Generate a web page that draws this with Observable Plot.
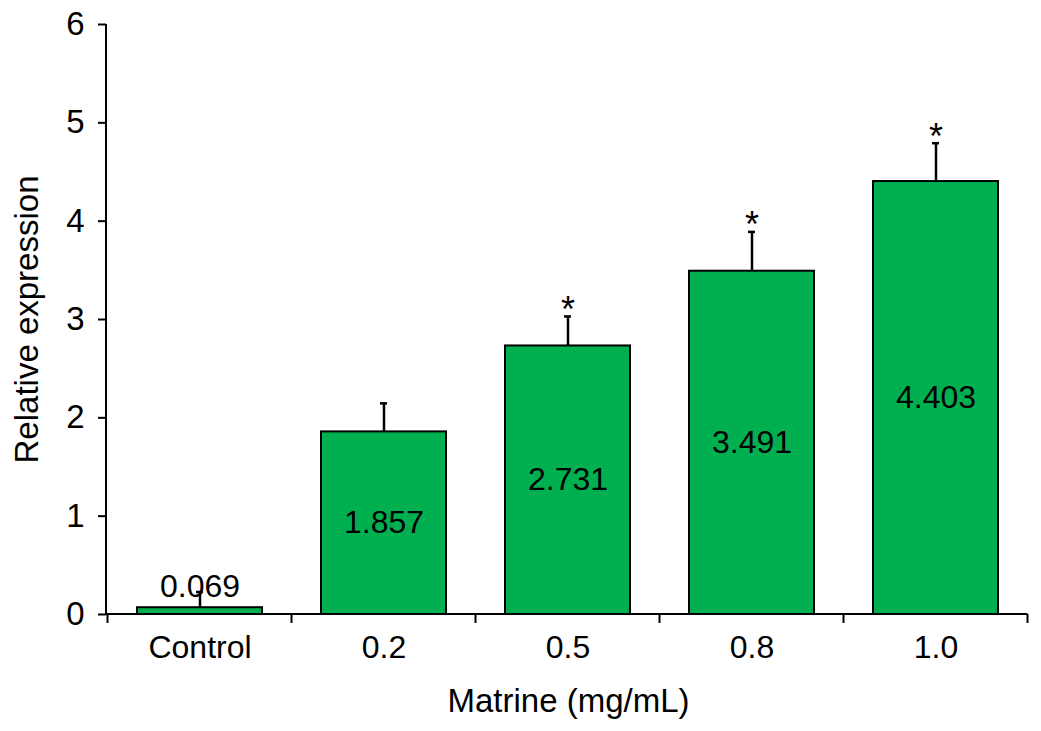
<!DOCTYPE html>
<html>
<head>
<meta charset="utf-8">
<script src="https://cdn.jsdelivr.net/npm/d3@7"></script>
<script src="https://cdn.jsdelivr.net/npm/@observablehq/plot@0.6"></script>
<style>
  html, body { margin: 0; padding: 0; background: #fff; }
</style>
</head>
<body>
<div id="chart"></div>
<script>
const categories = ["Control", "0.2", "0.5", "0.8", "1.0"];
const values = [0.069, 1.857, 2.731, 3.491, 4.403];
const errors = [0.16, 0.29, 0.30, 0.40, 0.39];
const significant = [false, false, true, true, true];
const yTicks = [0, 1, 2, 3, 4, 5, 6];
const valueLabels = ["0.069", "1.857", "2.731", "3.491", "4.403"];
const xTitle = "Matrine (mg/mL)";
const yTitle = "Relative expression";

const data = categories.map((c, i) => ({
  cat: c, value: values[i], err: errors[i], top: values[i] + errors[i],
  sig: significant[i], label: valueLabels[i]
}));

const FONT = "'Liberation Sans', Arial, Helvetica, sans-serif";
const GREEN = "#00B050";

function axesFrame(index, scales, values, dimensions) {
  const {width, height, marginLeft, marginRight, marginTop, marginBottom} = dimensions;
  const x = scales.x;
  const n = categories.length;
  const step = typeof x.step === "function" ? x.step() : (width - marginLeft - marginRight) / n;
  const bw = typeof x.bandwidth === "function" ? x.bandwidth() : step * 0.68;
  const pad = (step - bw) / 2;
  const bounds = categories.map(c => x(c) - pad);
  bounds.push(x(categories[n - 1]) + bw + pad);
  const y0 = height - marginBottom;
  const g = d3.create("svg:g").attr("stroke", "black").attr("stroke-width", 2).attr("fill", "none");
  g.append("line").attr("x1", marginLeft).attr("x2", marginLeft).attr("y1", marginTop).attr("y2", y0);
  g.append("line").attr("x1", marginLeft).attr("x2", bounds[n]).attr("y1", y0).attr("y2", y0);
  for (const b of bounds) {
    g.append("line").attr("x1", b).attr("x2", b).attr("y1", y0).attr("y2", y0 + 9);
  }
  return g.node();
}

const chart = Plot.plot({
  width: 1041,
  height: 731,
  marginLeft: 106,
  marginRight: 11,
  marginTop: 24,
  marginBottom: 117,
  style: {fontFamily: FONT, background: "#fff", color: "black"},
  x: {type: "band", domain: categories, paddingInner: 0.32, paddingOuter: 0.16},
  y: {domain: [0, 6]},
  marks: [
    Plot.barY(data, {x: "cat", y: "value", fill: GREEN, stroke: "black", strokeWidth: 2}),
    Plot.text(data.filter(d => d.value >= 0.5), {x: "cat", y: d => d.value / 2, text: "label", fontSize: 32, fill: "black"}),
    Plot.text(data.filter(d => d.value < 0.5), {x: "cat", y: "value", text: "label", fontSize: 32, dy: -21, fill: "black"}),
    Plot.ruleX(data, {x: "cat", y1: "value", y2: "top", stroke: "black", strokeWidth: 2.5}),
    Plot.tickY(data, {x: "cat", y: "top", stroke: "black", strokeWidth: 2.5,
      insetLeft: 59, insetRight: 59}),
    Plot.text(data.filter(d => d.sig), {x: "cat", y: "top", text: () => "*", fontSize: 36, dy: -6, fill: "black"}),
    Plot.axisY({ticks: yTicks, tickSize: 8, tickPadding: 14, fontSize: 33, label: null, strokeWidth: 2, tickFormat: d => String(d)}),
    Plot.axisX({tickSize: 0, tickPadding: 21, fontSize: 32, label: null}),
    axesFrame,
    Plot.text([xTitle], {frameAnchor: "bottom", text: d => d, lineAnchor: "middle", dy: 87, fontSize: 33, fill: "black"}),
    Plot.text([yTitle], {frameAnchor: "left", text: d => d, textAnchor: "middle", lineAnchor: "middle", rotate: -90, dx: -79, fontSize: 33, fill: "black"})
  ]
});

document.getElementById("chart").appendChild(chart);
</script>
</body>
</html>
